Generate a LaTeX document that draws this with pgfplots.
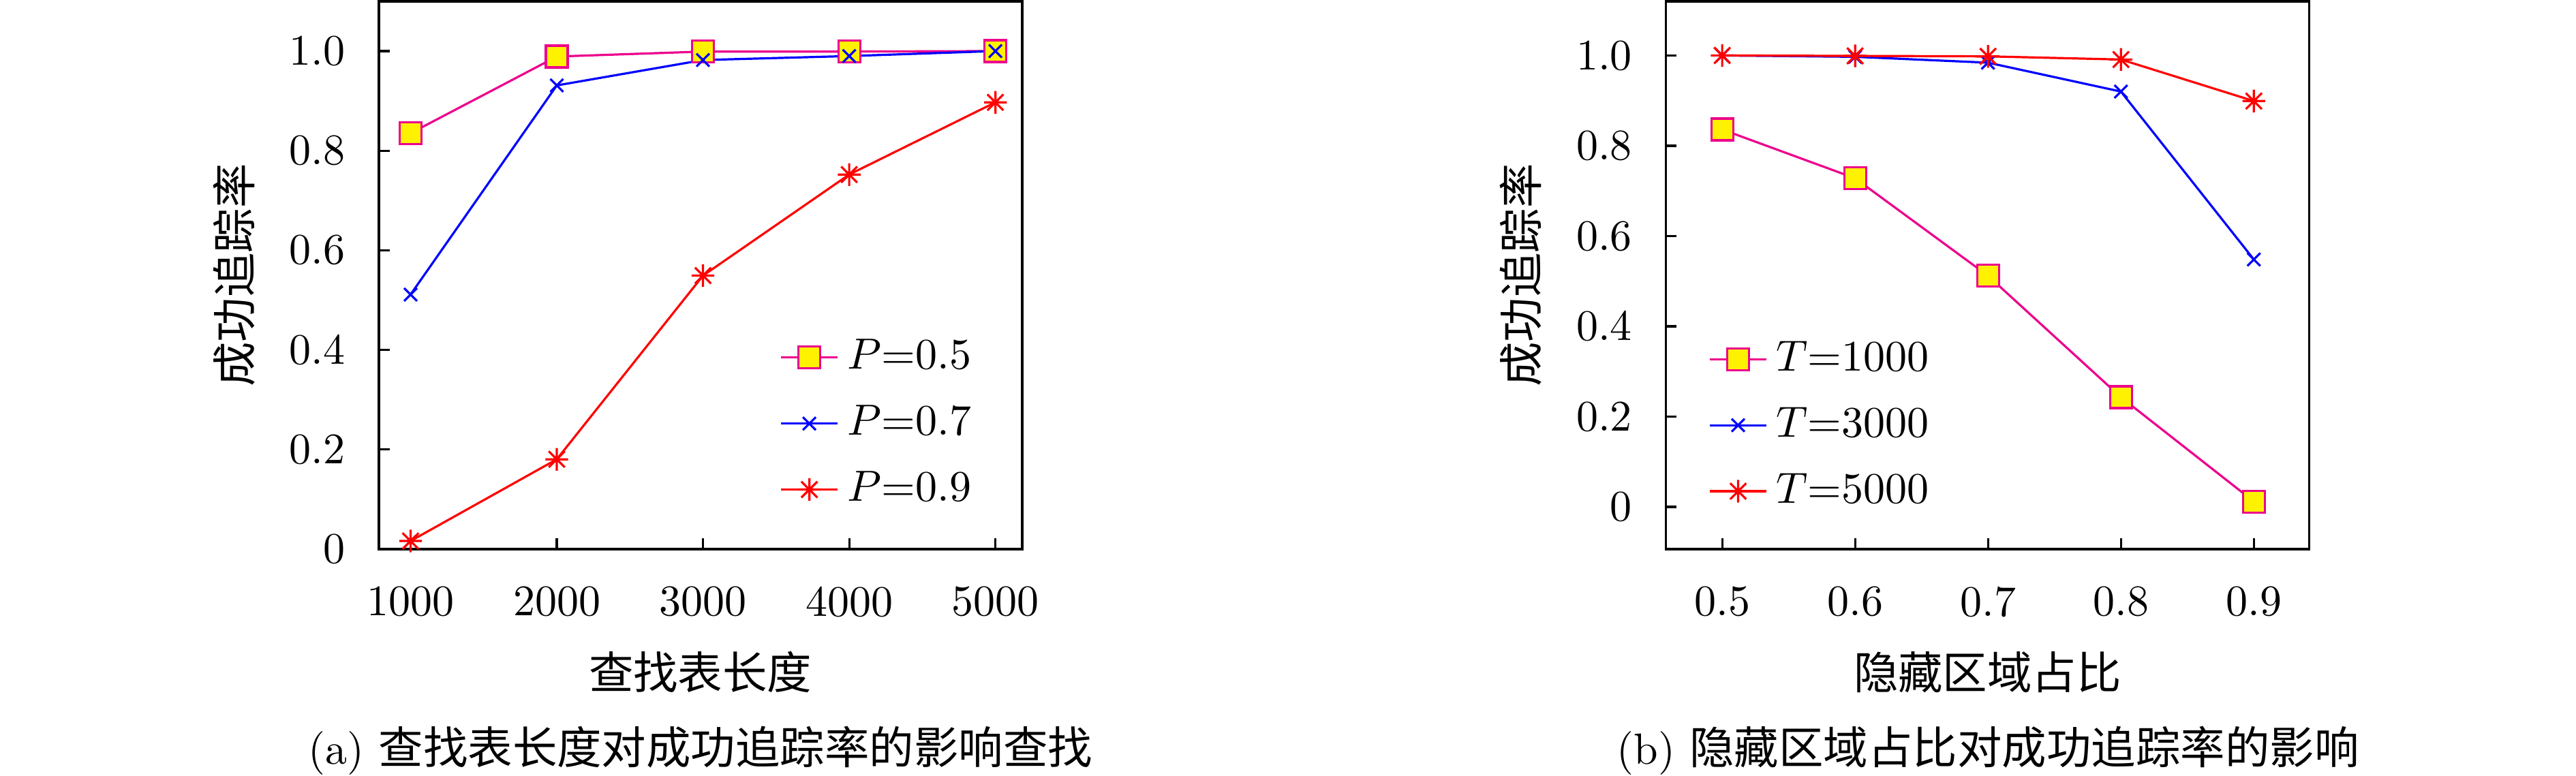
\documentclass[border=0pt]{standalone}
\usepackage{fontspec}
\newfontfamily\cjk[Scale=1.023]{Noto Sans CJK SC}
\usepackage{pgfplots}
\pgfplotsset{compat=1.18}

% eight-armed star (plus and cross together)
\pgfdeclareplotmark{plusx}{%
  \pgfpathmoveto{\pgfqpoint{-\pgfplotmarksize}{0pt}}%
  \pgfpathlineto{\pgfqpoint{\pgfplotmarksize}{0pt}}%
  \pgfpathmoveto{\pgfqpoint{0pt}{-\pgfplotmarksize}}%
  \pgfpathlineto{\pgfqpoint{0pt}{\pgfplotmarksize}}%
  \pgfpathmoveto{\pgfqpoint{-0.7071\pgfplotmarksize}{-0.7071\pgfplotmarksize}}%
  \pgfpathlineto{\pgfqpoint{0.7071\pgfplotmarksize}{0.7071\pgfplotmarksize}}%
  \pgfpathmoveto{\pgfqpoint{-0.7071\pgfplotmarksize}{0.7071\pgfplotmarksize}}%
  \pgfpathlineto{\pgfqpoint{0.7071\pgfplotmarksize}{-0.7071\pgfplotmarksize}}%
  \pgfusepathqstroke}

\pgfplotsset{
  panel/.style={
    width=147.5pt, height=125.6pt, scale only axis,
    axis line style={line width=0.6pt},
    tick align=inside, tick pos=left, major tick length=2.5pt,
    every tick/.style={black,line width=0.5pt},
    ytick={0,0.2,0.4,0.6,0.8,1.0},
    yticklabels={0,0.2,0.4,0.6,0.8,1.0},
    yticklabel style={xshift=-4.2pt},
    xticklabel style={yshift=-5.1pt},
    every axis x label/.style={at={(axis description cs:0.5,-0.2249)},anchor=center},
    every axis y label/.style={at={(axis description cs:-0.2251,0.5)},anchor=center,rotate=90},
    legend style={draw=none,fill=none,legend cell align=left,row sep=2.8pt,anchor=north west},
    legend image code/.code={\draw[mark repeat=2,mark phase=2] plot coordinates {(0pt,0pt)(6.5pt,0pt)(13pt,0pt)};},
  },
  sq/.style={magenta, line width=0.5pt, mark=square*, mark size=2.5pt, mark options={fill=yellow, draw=magenta, solid}},
  cr/.style={blue, line width=0.5pt, mark=x, mark size=2.1pt},
  st/.style={red, line width=0.5pt, mark=plusx, mark size=2.6pt},
}

\begin{document}
\begin{tikzpicture}

\begin{axis}[panel,
  at={(86.83pt,-125.89pt)}, anchor=south west,
  xmin=782, xmax=5182, ymin=0, ymax=1.1,
  xtick={1000,2000,3000,4000,5000},
  xticklabels={1000,2000,3000,4000,5000},
  xlabel={\cjk 查找表长度},
  ylabel={\cjk 成功追踪率},
  legend style={at={(0.602,0.416)}},
]
\addplot[sq] coordinates {(1000,0.835) (2000,0.989) (3000,0.999) (4000,0.999) (5000,1.0)};
\addlegendentry{$P$=0.5}
\addplot[cr] coordinates {(1000,0.511) (2000,0.931) (3000,0.982) (4000,0.990) (5000,1.0)};
\addlegendentry{$P$=0.7}
\addplot[st] coordinates {(1000,0.016) (2000,0.180) (3000,0.549) (4000,0.752) (5000,0.897)};
\addlegendentry{$P$=0.9}
\end{axis}

\begin{axis}[panel,
  at={(381.94pt,-125.89pt)}, anchor=south west,
  xmin=0.4576, xmax=0.9416, ymin=-0.093, ymax=1.12,
  xtick={0.5,0.6,0.7,0.8,0.9},
  xticklabels={0.5,0.6,0.7,0.8,0.9},
  xlabel={\cjk 隐藏区域占比},
  ylabel={\cjk 成功追踪率},
  legend style={at={(0.045,0.413)}},
]
\addplot[sq] coordinates {(0.5,0.836) (0.6,0.728) (0.7,0.512) (0.8,0.243) (0.9,0.012)};
\addlegendentry{$T$=1000}
\addplot[cr] coordinates {(0.5,1.0) (0.6,0.997) (0.7,0.984) (0.8,0.920) (0.9,0.548)};
\addlegendentry{$T$=3000}
\addplot[st] coordinates {(0.5,1.0) (0.6,0.999) (0.7,0.998) (0.8,0.991) (0.9,0.899)};
\addlegendentry{$T$=5000}
\end{axis}

\node[anchor=base] at (160.6pt,-175.3pt) {(a) {\cjk 查找表长度对成功追踪率的影响查找}};
\node[anchor=base] at (455.8pt,-175.3pt) {(b) {\cjk 隐藏区域占比对成功追踪率的影响}};

\pgfresetboundingbox
\path[use as bounding box] (0pt,0pt) rectangle (590.625pt,-177.8125pt);
\end{tikzpicture}
\end{document}
